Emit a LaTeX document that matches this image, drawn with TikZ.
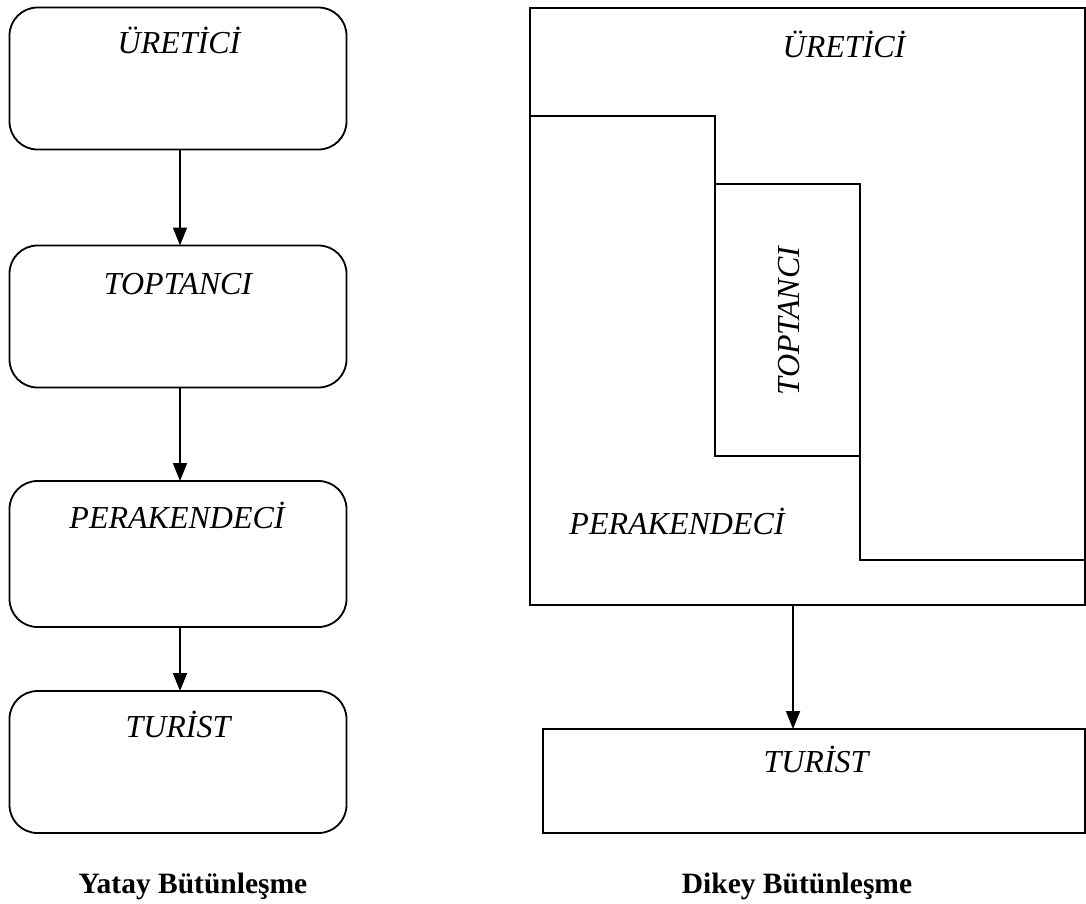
\documentclass[tikz,border=0pt]{standalone}
\usepackage{fontspec}
\setmainfont{Liberation Serif}
\usetikzlibrary{arrows.meta}
\begin{document}
\begin{tikzpicture}[x=1pt,y=-1pt,
  line width=1.8pt,
  every node/.style={outer sep=0pt},
  roundbox/.style={draw, rounded corners=28pt, minimum width=337pt, minimum height=142pt, inner sep=0pt},
  plainbox/.style={draw, inner sep=0pt},
  lbl/.style={anchor=base, inner sep=0pt, font=\fontsize{32}{38}\selectfont\itshape},
  title/.style={anchor=base, inner sep=0pt, font=\fontsize{29.5}{35}\selectfont\bfseries},
  flow/.style={-{Triangle[width=14pt,length=18pt]}}]
\useasboundingbox (0,0) rectangle (1086,903);

% Left column: horizontal integration chain
\node[roundbox] (u) at (178,78.5) {};
\node[roundbox] (t) at (178,316.5) {};
\node[roundbox, minimum height=146pt] (p) at (178,554) {};
\node[roundbox] (r) at (178,762) {};
\node[lbl] (ul) at (179,53) {ÜRETİCİ};
\node[lbl] (tl) at (178,294) {TOPTANCI};
\node[lbl] (pl) at (177,528) {PERAKENDECİ};
\node[lbl] (rl) at (178,737) {TURİST};
\draw[flow] (u.south -| 180,0) -- (t.north -| 180,0);
\draw[flow] (t.south -| 180,0) -- (p.north -| 180,0);
\draw[flow] (p.south -| 180,0) -- (r.north -| 180,0);
\node[title] (yt) at (193,893) {Yatay Bütünleşme};

% Right column: nested vertical integration
\node[plainbox, minimum width=555pt, minimum height=597pt] (outer) at (807.5,306.5) {};
\draw (outer.west |- 0,116) -- (715,116) -- (715,184);
\node[plainbox, minimum width=145pt, minimum height=272pt] (tb) at (787.5,320) {};
\draw (tb.south east) -- (860,560) -- (outer.east |- 0,560);
\node[lbl] (ur) at (844,57) {ÜRETİCİ};
\node[lbl, rotate=90] (tr) at (799,321) {TOPTANCI};
\node[lbl] (pr) at (677,534) {PERAKENDECİ};
\node[plainbox, minimum width=542pt, minimum height=104pt] (tur) at (814,781) {};
\node[lbl] (turl) at (816,772) {TURİST};
\coordinate (a) at (793,605);
\draw[flow] (a) -- (a |- tur.north);
\node[title] (dt) at (797,893) {Dikey Bütünleşme};
\end{tikzpicture}
\end{document}
